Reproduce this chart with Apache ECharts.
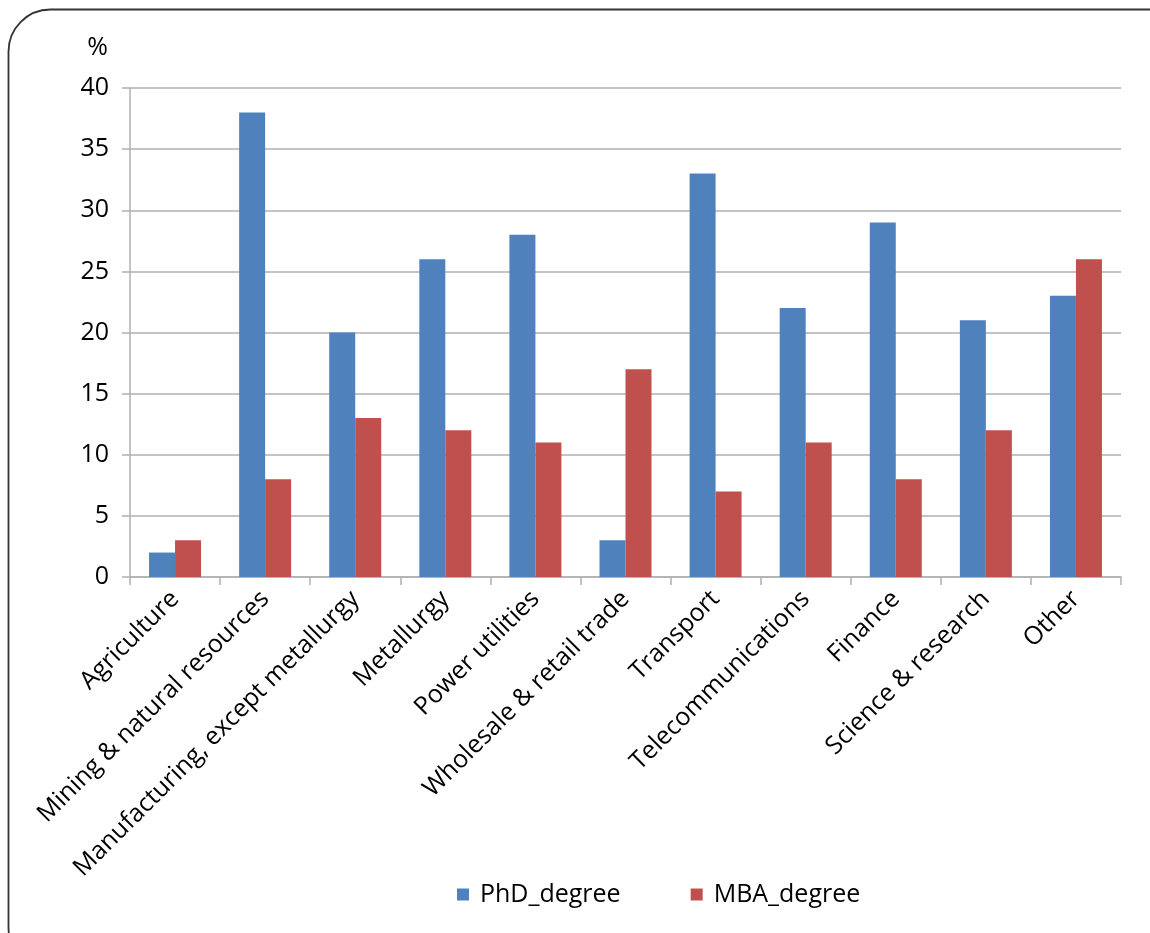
<!DOCTYPE html>
<html>
<head>
<meta charset="utf-8">
<script src="https://cdn.jsdelivr.net/npm/echarts@6/dist/echarts.min.js"></script>
<style>
  html, body { margin: 0; padding: 0; background: #fff; }
  #chart { width: 1150px; height: 933px; }
</style>
</head>
<body>
<div id="chart"></div>
<script>
const categories = [
    'Agriculture', 'Mining & natural resources', 'Manufacturing, except metallurgy',
    'Metallurgy', 'Power utilities', 'Wholesale & retail trade', 'Transport',
    'Telecommunications', 'Finance', 'Science & research', 'Other'
]
const phdValues = [2, 38, 20, 26, 28, 3, 33, 22, 29, 21, 23]
const mbaValues = [3, 8, 13, 12, 11, 17, 7, 11, 8, 12, 26]

const FONT = '"Open Sans", "Noto Sans", sans-serif'
const GRID_COLOR = '#b0b0b0'

let myChart = echarts.init(document.getElementById('chart'))

let option = {
    animation: false,
    textStyle: { fontFamily: FONT },
    graphic: [{
        type: 'rect',
        shape: { x: 8.5, y: 9.5, width: 1190, height: 960, r: 42 },
        style: { fill: 'none', stroke: '#333', lineWidth: 1.8 },
        z: 100
    }],
    legend: {
        top: 877,
        left: 452,
        itemWidth: 12,
        itemHeight: 12,
        itemGap: 70,
        icon: 'rect',
        textStyle: { fontSize: 25, color: '#000', fontFamily: FONT, padding: [0, 0, 0, 6] }
    },
    grid: {
        left: 130,
        right: 29,
        top: 88,
        bottom: 356,
        containLabel: false
    },
    xAxis: {
        type: 'category',
        data: categories,
        axisLine: { lineStyle: { color: GRID_COLOR, width: 1.5 } },
        axisTick: { show: true, length: 8, lineStyle: { color: GRID_COLOR, width: 1.5 } },
        axisLabel: {
            rotate: 45,
            interval: 0,
            fontSize: 25,
            color: '#000',
            margin: 18,
            fontFamily: FONT
        }
    },
    yAxis: {
        type: 'value',
        min: 0,
        max: 40,
        interval: 5,
        name: '%',
        nameLocation: 'end',
        nameGap: 28,
        nameTextStyle: { fontSize: 25, color: '#000', align: 'right', padding: [0, 22, 0, 0] },
        axisLine: { show: true, lineStyle: { color: GRID_COLOR, width: 1.5 } },
        axisTick: { show: true, length: 8, lineStyle: { color: GRID_COLOR, width: 1.5 } },
        axisLabel: { fontSize: 25, color: '#000', margin: 21, fontFamily: FONT },
        splitLine: { lineStyle: { color: GRID_COLOR, width: 1.5 } }
    },
    series: [{
        name: 'PhD_degree',
        type: 'bar',
        data: phdValues,
        barWidth: 26,
        barGap: '0%',
        itemStyle: { color: '#4F81BD' }
    }, {
        name: 'MBA_degree',
        type: 'bar',
        data: mbaValues,
        barWidth: 26,
        itemStyle: { color: '#C0504D' }
    }]
}

myChart.setOption(option)
</script>
</body>
</html>
